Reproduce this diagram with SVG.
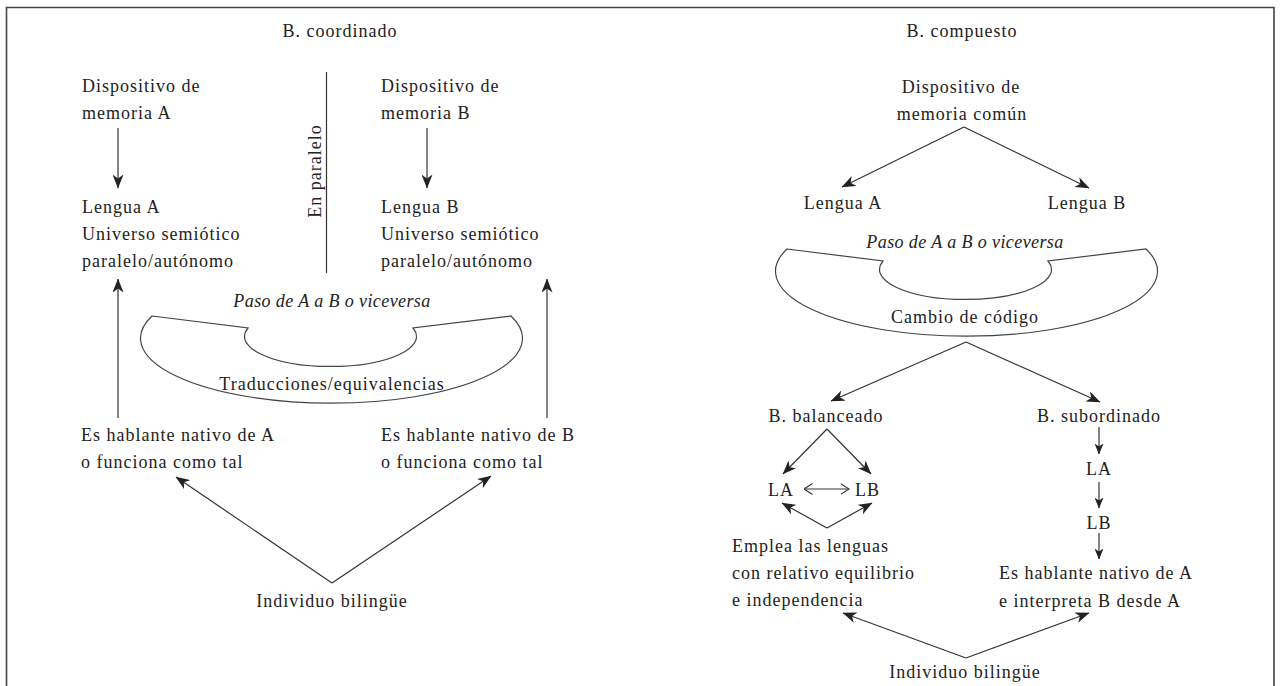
<svg xmlns="http://www.w3.org/2000/svg" width="1281" height="686" viewBox="0 0 1281 686">
<style>
.t{font-family:"Liberation Serif","Times New Roman",serif;font-size:18px;letter-spacing:1px;fill:#222}
.i{font-style:italic;letter-spacing:0.4px}
.m{text-anchor:middle}
.c{fill:none;stroke:#333;stroke-width:1.2}
.a{marker-end:url(#ah)}
.s{marker-end:url(#as)}
.sh{fill:#fff;stroke:#444;stroke-width:1.2}
</style>
<defs>
<marker id="ah" viewBox="0 0 14 11" refX="13.5" refY="5.5" markerWidth="14" markerHeight="11" orient="auto" markerUnits="userSpaceOnUse">
<path d="M0,0 L14,5.5 L0,11 L4,5.5 Z" fill="#222"/>
</marker>
<marker id="as" viewBox="0 0 11 9" refX="10.5" refY="4.5" markerWidth="11" markerHeight="9" orient="auto" markerUnits="userSpaceOnUse">
<path d="M0,0 L11,4.5 L0,9 L3,4.5 Z" fill="#222"/>
</marker>
<marker id="oh" viewBox="0 0 9 12" refX="8.5" refY="6" markerWidth="9" markerHeight="12" orient="auto-start-reverse" markerUnits="userSpaceOnUse">
<path d="M0,0.5 L8.5,6 L0,11.5" fill="none" stroke="#333" stroke-width="1.1"/>
</marker>
<path id="fan" d="M152,316 L248,328 A86,30 0 1 0 413,328 L511,316 A191,65 0 1 1 152,316 Z"/>
</defs>
<rect width="1281" height="686" fill="#fff"/>
<path d="M6.5,690 V7.5 H1274 V690" fill="none" stroke="#444" stroke-width="1.6"/>

<g id="connectors">
<line class="c a" x1="118" y1="128" x2="118" y2="188"/>
<line class="c a" x1="427" y1="128" x2="427" y2="188"/>
<line class="c" x1="326.5" y1="72" x2="326.5" y2="273"/>
<line class="c a" x1="118" y1="418" x2="118" y2="279"/>
<line class="c a" x1="547" y1="418" x2="547" y2="279"/>
<line class="c a" x1="332" y1="583" x2="176" y2="477"/>
<line class="c a" x1="332" y1="583" x2="491" y2="476"/>
<line class="c a" x1="964" y1="127" x2="842" y2="187"/>
<line class="c a" x1="964" y1="127" x2="1089" y2="188"/>
<line class="c a" x1="966" y1="342" x2="831" y2="401"/>
<line class="c a" x1="966" y1="342" x2="1100" y2="402"/>
<line class="c a" x1="827" y1="429" x2="783" y2="474"/>
<line class="c a" x1="827" y1="429" x2="871" y2="474"/>
<line class="c" x1="804" y1="489" x2="849" y2="489" marker-start="url(#oh)" marker-end="url(#oh)"/>
<line class="c a" x1="827" y1="528" x2="782" y2="503"/>
<line class="c a" x1="827" y1="528" x2="872" y2="503"/>
<line class="c s" x1="1099" y1="427" x2="1099" y2="454"/>
<line class="c s" x1="1099" y1="482" x2="1099" y2="508"/>
<line class="c s" x1="1099" y1="533" x2="1099" y2="559"/>
<line class="c a" x1="966" y1="658" x2="843" y2="613"/>
<line class="c a" x1="966" y1="658" x2="1089" y2="613"/>
</g>

<g id="title-coordinado"><text class="t m" x="340" y="37">B. coordinado</text></g>
<g id="memA"><text class="t" x="82" y="92">Dispositivo de</text><text class="t" x="82" y="119">memoria A</text></g>
<g id="langA"><text class="t" x="82" y="213">Lengua A</text><text class="t" x="82" y="240">Universo semiótico</text><text class="t" x="82" y="267">paralelo/autónomo</text></g>
<g id="memB"><text class="t" x="381" y="92">Dispositivo de</text><text class="t" x="381" y="119">memoria B</text></g>
<g id="langB"><text class="t" x="381" y="213">Lengua B</text><text class="t" x="381" y="240">Universo semiótico</text><text class="t" x="381" y="267">paralelo/autónomo</text></g>
<g id="paralelo"><text class="t m" transform="translate(321,171) rotate(-90)">En paralelo</text></g>
<g id="pasoL"><text class="t i m" x="332" y="307">Paso de A a B o viceversa</text></g>
<g id="fanL"><use href="#fan" class="sh"/><text class="t m" x="332" y="390">Traducciones/equivalencias</text></g>
<g id="nativoA"><text class="t" x="81" y="441">Es hablante nativo de A</text><text class="t" x="81" y="468">o funciona como tal</text></g>
<g id="nativoB"><text class="t" x="381" y="441">Es hablante nativo de B</text><text class="t" x="381" y="468">o funciona como tal</text></g>
<g id="indivL"><text class="t m" x="332" y="607">Individuo bilingüe</text></g>

<g id="title-compuesto"><text class="t m" x="962" y="37">B. compuesto</text></g>
<g id="memC"><text class="t m" x="961" y="93">Dispositivo de</text><text class="t m" x="962" y="120">memoria común</text></g>
<g id="lenguaA"><text class="t m" x="843" y="209">Lengua A</text></g>
<g id="lenguaB"><text class="t m" x="1087" y="209">Lengua B</text></g>
<g id="pasoR"><text class="t i m" x="965" y="248">Paso de A a B o viceversa</text></g>
<g id="fanR"><use href="#fan" class="sh" transform="translate(635,-67)"/><text class="t m" x="965" y="323">Cambio de código</text></g>
<g id="balanceado"><text class="t m" x="826" y="422">B. balanceado</text></g>
<g id="subordinado"><text class="t m" x="1099" y="422">B. subordinado</text></g>
<g id="LA1"><text class="t" x="768" y="496">LA</text></g>
<g id="LB1"><text class="t" x="855" y="496">LB</text></g>
<g id="emplea"><text class="t" x="732" y="552">Emplea las lenguas</text><text class="t" x="732" y="579">con relativo equilibrio</text><text class="t" x="732" y="606">e independencia</text></g>
<g id="LA2"><text class="t m" x="1099" y="475">LA</text></g>
<g id="LB2"><text class="t m" x="1099" y="529">LB</text></g>
<g id="nativoAB"><text class="t" x="999" y="579">Es hablante nativo de A</text><text class="t" x="999" y="607">e interpreta B desde A</text></g>
<g id="indivR"><text class="t m" x="965" y="678">Individuo bilingüe</text></g>
</svg>
